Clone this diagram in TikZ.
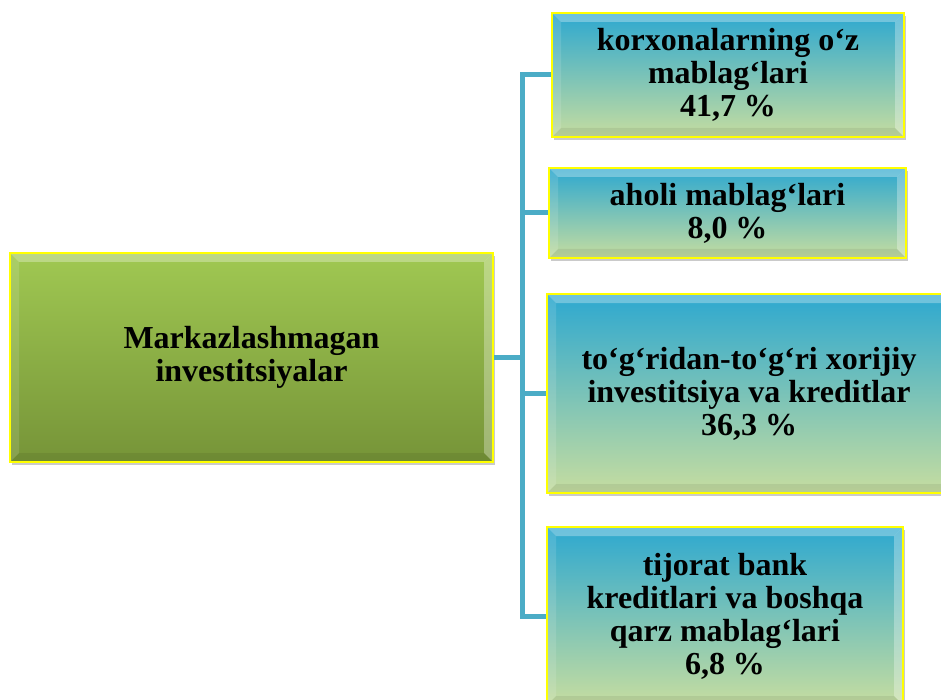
\documentclass[tikz,border=0pt]{standalone}
\usepackage{fontspec}
\setmainfont{Liberation Serif}
\usetikzlibrary{shadows,calc}
\definecolor{conn}{RGB}{75,172,198}
\definecolor{gtop}{RGB}{160,200,82}
\definecolor{gbot}{RGB}{118,148,56}
\definecolor{btop}{RGB}{45,168,208}
\definecolor{bbot}{RGB}{198,221,160}
\definecolor{ylw}{RGB}{255,255,0}
\tikzset{
  bevelled/.style={path picture={
    \coordinate (pnw) at (path picture bounding box.north west);
    \coordinate (pne) at (path picture bounding box.north east);
    \coordinate (psw) at (path picture bounding box.south west);
    \coordinate (pse) at (path picture bounding box.south east);
    \fill[white,opacity=0.3] (pnw) -- (pne) -- ($(pne)+(-9,9)$) -- ($(pnw)+(9,9)$) -- cycle;
    \fill[white,opacity=0.12] (pnw) -- (psw) -- ($(psw)+(9,-9)$) -- ($(pnw)+(9,9)$) -- cycle;
    \fill[black,opacity=0.07] (psw) -- (pse) -- ($(pse)+(-9,-9)$) -- ($(psw)+(9,-9)$) -- cycle;
    \fill[white,opacity=0.3] (pne) -- (pse) -- ($(pse)+(-9,-9)$) -- ($(pne)+(-9,9)$) -- cycle;
  }},
  base/.style={draw=ylw, line width=2.5pt, align=center,
    font=\fontsize{32}{33}\selectfont\bfseries, inner sep=0pt, bevelled,
    drop shadow={shadow xshift=2pt, shadow yshift=-3pt, opacity=0.35, fill=black!60}},
  greenbox/.style={base, top color=gtop, bottom color=gbot},
  bluebox/.style={base, top color=btop, bottom color=bbot},
  link/.style={draw=conn, line width=5pt},
}
\begin{document}
\begin{tikzpicture}[x=1pt,y=-1pt]
\useasboundingbox (0,0) rectangle (941,700);
\clip (0,0) rectangle (941,700);

\coordinate (j) at (522,357.5);

\node[greenbox, minimum width=483pt, minimum height=209pt] (m) at (251.5,357.5)
  {Markazlashmagan\\investitsiyalar};
\node[bluebox, minimum width=352pt, minimum height=124pt] (b1) at (728,75)
  {korxonalarning o‘z\\mablag‘lari\\41,7 \%};
\node[bluebox, minimum width=357pt, minimum height=90pt] (b2) at (727.5,213)
  {aholi mablag‘lari\\8,0 \%};
\node[bluebox, minimum width=404pt, minimum height=199pt] (b3) at (749,393.5)
  {to‘g‘ridan-to‘g‘ri xorijiy\\investitsiya va kreditlar\\36,3 \%};
\node[bluebox, minimum width=356pt, minimum height=178pt] (b4) at (725,616)
  {tijorat bank\\kreditlari va boshqa\\qarz mablag‘lari\\6,8 \%};

\draw[link] (m.east) -- (j);
\draw[link, line join=miter] (b1.west) -- (b1.west -| j) -- (b4.west -| j) -- (b4.west);
\draw[link] (j |- b2.west) -- (b2.west);
\draw[link] (j |- b3.west) -- (b3.west);
\end{tikzpicture}
\end{document}
